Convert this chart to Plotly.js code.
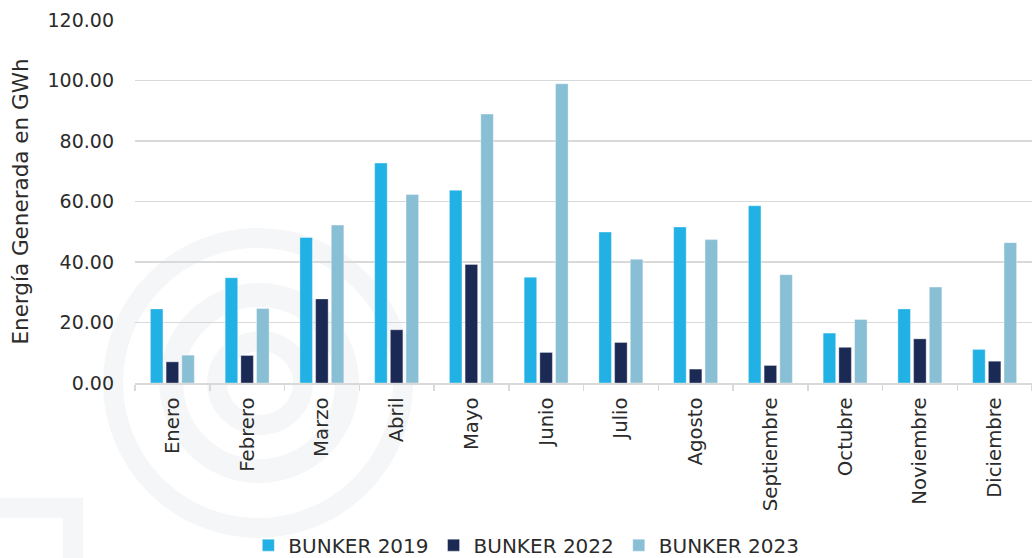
<!DOCTYPE html>
<html>
<head>
<meta charset="utf-8">
<script src="https://cdn.plot.ly/plotly-3.0.1.min.js"></script>
<style>
html,body{margin:0;padding:0;background:#fff;}
#chart{width:1032px;height:558px;}
</style>
</head>
<body>
<div id="chart"></div>
<script>
var months = ["Enero","Febrero","Marzo","Abril","Mayo","Junio","Julio","Agosto","Septiembre","Octubre","Noviembre","Diciembre"];
var bunker2019 = [24.5, 34.8, 48.1, 72.7, 63.7, 35.0, 49.9, 51.6, 58.6, 16.5, 24.5, 11.1];
var bunker2022 = [7.0, 9.1, 27.8, 17.6, 39.2, 10.1, 13.4, 4.6, 5.8, 11.8, 14.6, 7.2];
var bunker2023 = [9.2, 24.6, 52.2, 62.3, 88.9, 98.9, 40.9, 47.4, 35.8, 21.0, 31.7, 46.4];
var seriesNames = ["BUNKER 2019","BUNKER 2022","BUNKER 2023"];
var colors = ["#22B1E4","#1B2A55","#89BFD4"];

var data = [bunker2019, bunker2022, bunker2023].map(function(vals, i){
  return {
    type: "bar",
    name: seriesNames[i],
    x: months,
    y: vals,
    marker: {color: colors[i], line: {color: "rgba(255,255,255,0.6)", width: 0.6}},
    hoverinfo: "x+y+name"
  };
});

var wm = "#f5f6f7";
var shapes = [
  {type: "circle", xref: "paper", yref: "paper", layer: "below",
   x0: -0.0245, x1: 0.2988, y0: -0.3994, y1: 0.3994, line: {color: wm, width: 20}},
  {type: "circle", xref: "paper", yref: "paper", layer: "below",
   x0: 0.0404, x1: 0.2364, y0: -0.2424, y1: 0.2424, line: {color: wm, width: 24}},
  {type: "circle", xref: "paper", yref: "paper", layer: "below",
   x0: 0.0915, x1: 0.1873, y0: -0.1157, y1: 0.1157, line: {color: wm, width: 20}},
  {type: "rect", xref: "paper", yref: "paper", layer: "below",
   x0: -0.1617, x1: -0.0691, y0: -0.344, y1: -0.598, line: {color: wm, width: 20}}
];

var baseFont = "'DejaVu Sans', Verdana, sans-serif";
var txt = "#2b2b2b";
var layout = {
  width: 1032,
  height: 558,
  paper_bgcolor: "#ffffff",
  plot_bgcolor: "rgba(0,0,0,0)",
  margin: {l: 135, r: 0, t: 20, b: 175},
  barmode: "group",
  bargap: 0.37,
  bargroupgap: 0.2,
  font: {family: baseFont, color: txt, size: 19},
  shapes: shapes,
  showlegend: true,
  legend: {
    orientation: "h",
    xref: "container", yref: "container",
    x: 0.51, xanchor: "center",
    y: 0.023, yanchor: "middle",
    bgcolor: "rgba(0,0,0,0)",
    font: {family: baseFont, size: 20, color: txt},
    itemwidth: 30,
    tracegroupgap: 0
  },
  xaxis: {
    type: "category",
    tickangle: -90,
    tickson: "boundaries",
    ticks: "outside",
    ticklen: 6,
    tickcolor: "#d9d9d9",
    tickwidth: 1.5,
    showline: true,
    linecolor: "#d9d9d9",
    linewidth: 1.5,
    showgrid: false,
    ticklabelstandoff: 5,
    tickfont: {family: baseFont, size: 19.7, color: txt},
    automargin: false
  },
  yaxis: {
    range: [0, 120],
    dtick: 20,
    tick0: 0,
    tickformat: ".2f",
    showgrid: true,
    gridcolor: "#d9d9d9",
    gridwidth: 1.5,
    zeroline: false,
    showline: false,
    ticks: "",
    ticklabelstandoff: 20,
    tickfont: {family: baseFont, size: 19, color: txt},
    title: {text: "Energía Generada en GWh", font: {family: baseFont, size: 21.5, color: txt}, standoff: 12},
    automargin: false
  }
};

Plotly.newPlot("chart", data, layout, {displayModeBar: false, staticPlot: true});
</script>
</body>
</html>
